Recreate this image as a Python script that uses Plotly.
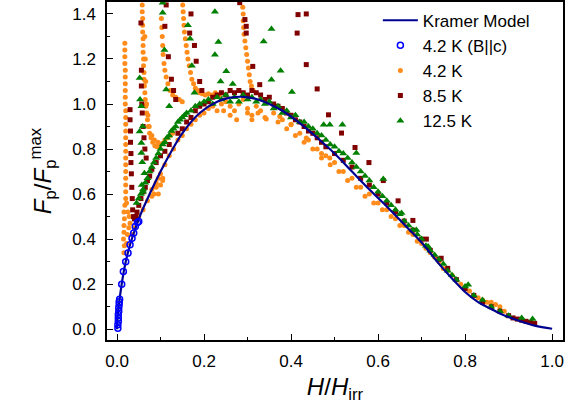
import plotly.graph_objects as go

# ---------------- data ----------------
kramer_h = [0, 0.002, 0.005, 0.01, 0.015, 0.02, 0.03, 0.04, 0.05, 0.075, 0.10, 0.125, 0.15,
            0.19, 0.23, 0.26, 0.29, 0.32, 0.35, 0.38, 0.42, 0.46, 0.50, 0.54, 0.58, 0.62,
            0.66, 0.70, 0.74, 0.77, 0.80, 0.83, 0.86, 0.88, 0.92, 0.96, 1.0]
kramer_f = [0, 0.07, 0.12, 0.19, 0.25, 0.30, 0.375, 0.435, 0.49, 0.60, 0.70, 0.79, 0.87,
            0.96, 1.01, 1.028, 1.032, 1.022, 1.0, 0.97, 0.915, 0.85, 0.78, 0.70, 0.62, 0.545,
            0.465, 0.385, 0.29, 0.225, 0.165, 0.12, 0.09, 0.07, 0.04, 0.016, 0.002]

bc_42K = [(0.002, 0.004), (0.002, 0.02), (0.003, 0.035), (0.003, 0.05), (0.003, 0.065),
          (0.004, 0.08), (0.004, 0.095), (0.005, 0.11), (0.005, 0.122), (0.006, 0.133),
          (0.0108, 0.2), (0.0146, 0.256), (0.02, 0.30), (0.0253, 0.338), (0.03, 0.375),
          (0.0345, 0.404), (0.0384, 0.427), (0.042, 0.456), (0.047, 0.474), (0.05, 0.478)]

orange_42K = [
    # low-field branch near h = 0.02
    (0.018, 1.27), (0.018, 1.24), (0.018, 1.21), (0.018, 1.18), (0.019, 1.15), (0.019, 1.12),
    (0.019, 1.09), (0.019, 1.06), (0.019, 1.03), (0.019, 1.00), (0.020, 0.97), (0.020, 0.94),
    (0.020, 0.91), (0.020, 0.88), (0.020, 0.85), (0.020, 0.82), (0.020, 0.79), (0.020, 0.76),
    (0.020, 0.73), (0.020, 0.70), (0.020, 0.67), (0.020, 0.64), (0.020, 0.61), (0.020, 0.58),
    (0.018, 0.55), (0.016, 0.52), (0.017, 0.49), (0.016, 0.46), (0.016, 0.43), (0.015, 0.40),
    (0.017, 0.37), (0.016, 0.34), (0.022, 0.56), (0.025, 0.52), (0.028, 0.50), (0.030, 0.47),
    (0.027, 0.45), (0.024, 0.42), (0.022, 0.38),
    # branch from the top near h = 0.06
    (0.058, 1.44), (0.058, 1.41), (0.059, 1.38), (0.059, 1.35), (0.059, 1.32), (0.060, 1.29),
    (0.060, 1.26), (0.060, 1.23), (0.061, 1.20), (0.061, 1.17), (0.062, 1.14), (0.062, 1.11),
    (0.063, 1.08), (0.064, 1.05), (0.065, 1.02), (0.066, 0.99), (0.068, 0.96), (0.070, 0.93),
    (0.072, 0.90), (0.075, 0.87), (0.078, 0.85), (0.082, 0.83), (0.087, 0.815), (0.092, 0.81),
    (0.098, 0.815), (0.104, 0.825), (0.110, 0.84), (0.116, 0.85), (0.064, 1.30), (0.065, 1.20),
    (0.066, 1.10), (0.068, 1.00), (0.071, 0.95), (0.074, 0.90), (0.080, 0.86), (0.086, 0.84),
    (0.094, 0.83), (0.122, 0.86), (0.128, 0.87),
    # branch near h = 0.10
    (0.102, 1.38), (0.103, 1.34), (0.104, 1.30), (0.105, 1.26), (0.106, 1.22), (0.108, 1.18),
    (0.110, 1.15), (0.113, 1.12), (0.117, 1.09), (0.122, 1.06), (0.128, 1.04), (0.135, 1.03),
    (0.143, 1.02), (0.150, 1.01),
    # branch from the top near h = 0.15
    (0.151, 1.44), (0.152, 1.41), (0.153, 1.38), (0.154, 1.35), (0.155, 1.32), (0.157, 1.29),
    (0.159, 1.26), (0.161, 1.23), (0.163, 1.20), (0.166, 1.17), (0.169, 1.14), (0.172, 1.11),
    (0.176, 1.09), (0.180, 1.07), (0.185, 1.06), (0.190, 1.05), (0.196, 1.045), (0.203, 1.04),
    (0.210, 1.045), (0.218, 1.04), (0.226, 1.05), (0.235, 1.04),
    # branch from the top near h = 0.29
    (0.289, 1.43), (0.290, 1.40), (0.290, 1.37), (0.291, 1.34), (0.292, 1.31), (0.294, 1.28),
    (0.296, 1.25), (0.298, 1.22), (0.300, 1.19), (0.302, 1.16), (0.304, 1.13), (0.306, 1.10),
    (0.309, 1.08), (0.313, 1.06),
    # main curve
    (0.035, 0.42), (0.040, 0.45), (0.045, 0.48), (0.050, 0.50), (0.060, 0.53), (0.070, 0.57),
    (0.080, 0.62), (0.085, 0.60), (0.090, 0.65), (0.095, 0.67), (0.100, 0.69), (0.105, 0.66),
    (0.080, 0.59), (0.090, 0.63), (0.095, 0.60), (0.100, 0.64), (0.105, 0.67),
    (0.110, 0.73), (0.120, 0.77), (0.130, 0.80), (0.140, 0.84), (0.150, 0.86), (0.160, 0.89),
    (0.170, 0.91), (0.180, 0.93), (0.190, 0.95), (0.200, 0.96), (0.210, 0.98), (0.220, 0.99),
    (0.230, 0.97), (0.240, 1.00), (0.250, 1.01), (0.260, 0.99), (0.270, 0.97), (0.280, 1.00),
    (0.290, 1.02), (0.300, 0.98), (0.310, 0.95), (0.320, 0.99), (0.330, 0.97), (0.340, 0.94),
    (0.245, 0.97), (0.260, 0.95), (0.275, 0.93), (0.300, 0.96), (0.310, 0.93), (0.324, 0.96),
    (0.343, 0.933), (0.374, 0.945), (0.400, 0.908), (0.435, 0.849), (0.470, 0.78), (0.489, 0.76),
    (0.360, 0.96), (0.370, 0.92), (0.380, 0.93), (0.390, 0.89), (0.400, 0.91), (0.410, 0.86),
    (0.420, 0.87), (0.430, 0.83), (0.440, 0.84), (0.450, 0.80), (0.460, 0.80), (0.470, 0.76),
    (0.480, 0.77), (0.490, 0.73), (0.500, 0.74), (0.510, 0.70), (0.520, 0.70), (0.530, 0.66),
    (0.540, 0.67), (0.550, 0.63), (0.560, 0.63), (0.570, 0.59), (0.580, 0.60), (0.590, 0.56),
    (0.600, 0.56), (0.610, 0.53), (0.620, 0.53), (0.630, 0.50), (0.640, 0.49), (0.650, 0.46),
    (0.660, 0.46), (0.670, 0.43), (0.680, 0.42), (0.690, 0.39), (0.700, 0.38), (0.710, 0.36),
    (0.720, 0.34), (0.730, 0.32), (0.740, 0.30), (0.750, 0.27), (0.760, 0.26), (0.770, 0.24),
    (0.780, 0.22), (0.790, 0.20), (0.800, 0.18), (0.810, 0.17), (0.820, 0.15), (0.830, 0.14),
    (0.840, 0.13), (0.850, 0.12), (0.860, 0.12), (0.870, 0.11), (0.880, 0.10), (0.890, 0.08),
]

red_85K = [
    # low-field branch near h = 0.03
    (0.030, 0.975), (0.030, 0.93), (0.031, 0.88), (0.031, 0.83), (0.032, 0.78), (0.032, 0.74),
    (0.033, 0.69), (0.034, 0.63), (0.035, 0.58), (0.036, 0.53), (0.038, 0.50), (0.040, 0.49),
    (0.043, 0.50), (0.046, 0.52), (0.050, 0.55), (0.055, 0.58), (0.060, 0.61), (0.065, 0.63),
    (0.070, 0.66), (0.075, 0.68), (0.080, 0.71), (0.090, 0.74), (0.100, 0.77), (0.110, 0.79),
    (0.120, 0.82),
    # scattered upturns
    (0.055, 1.36), (0.056, 1.15), (0.056, 1.08), (0.057, 1.00), (0.058, 0.96), (0.060, 0.90),
    (0.062, 0.85), (0.064, 0.80), (0.067, 0.76),
    (0.113, 1.44), (0.110, 1.345), (0.118, 1.21), (0.125, 1.11), (0.130, 1.06), (0.135, 1.02),
    (0.170, 1.40), (0.167, 1.315), (0.178, 1.26), (0.182, 1.19), (0.190, 1.10), (0.195, 1.06),
    (0.282, 1.45), (0.294, 1.375), (0.297, 1.345), (0.297, 1.315), (0.312, 1.167), (0.328, 1.086),
    (0.416, 1.397), (0.435, 1.40), (0.414, 1.315), (0.435, 1.175), (0.460, 1.067), (0.486, 0.952),
    (0.516, 0.871), (0.547, 0.807), (0.579, 0.74), (0.612, 0.66), (0.646, 0.57), (0.680, 0.483),
    (0.711, 0.40), (0.745, 0.315),
    # main curve
    (0.140, 0.87), (0.150, 0.89), (0.160, 0.92), (0.170, 0.94), (0.180, 0.97), (0.190, 0.99),
    (0.200, 1.00), (0.210, 1.01), (0.220, 1.03), (0.230, 1.04), (0.240, 1.05), (0.250, 1.04),
    (0.260, 1.06), (0.270, 1.05), (0.280, 1.06), (0.290, 1.05), (0.300, 1.04), (0.310, 1.06),
    (0.320, 1.05), (0.330, 1.04), (0.340, 1.02), (0.350, 1.03), (0.360, 1.00), (0.370, 0.99),
    (0.380, 0.98), (0.390, 0.96), (0.400, 0.95), (0.410, 0.93), (0.420, 0.92), (0.430, 0.90),
    (0.440, 0.88), (0.450, 0.87), (0.460, 0.85), (0.470, 0.83), (0.480, 0.81), (0.500, 0.78),
    (0.520, 0.75), (0.540, 0.72), (0.560, 0.67), (0.580, 0.64), (0.600, 0.60), (0.620, 0.56),
    (0.640, 0.52), (0.660, 0.48), (0.680, 0.44), (0.700, 0.40), (0.720, 0.35), (0.740, 0.31),
    (0.760, 0.27), (0.780, 0.22), (0.800, 0.18), (0.820, 0.15), (0.840, 0.12), (0.860, 0.10),
    (0.880, 0.08), (0.900, 0.06), (0.910, 0.05), (0.920, 0.045), (0.930, 0.04), (0.940, 0.035),
    (0.950, 0.03), (0.960, 0.025),
]

green_125K = [
    # scattered upturns
    (0.052, 1.115), (0.053, 1.02), (0.056, 0.99), (0.059, 0.90), (0.052, 0.878), (0.056, 0.827),
    (0.056, 0.782), (0.058, 0.741), (0.063, 0.693), (0.057, 0.64), (0.060, 0.61),
    (0.105, 1.45), (0.105, 1.405), (0.109, 1.24), (0.113, 1.064), (0.120, 0.99),
    (0.163, 1.35), (0.168, 1.29), (0.172, 1.17), (0.178, 1.05),
    (0.225, 1.41), (0.233, 1.275), (0.225, 1.219), (0.251, 1.145), (0.238, 1.10), (0.266, 1.089),
    (0.355, 1.333), (0.337, 1.278), (0.376, 1.148), (0.355, 1.108), (0.402, 1.053),
    (0.475, 0.908), (0.489, 0.908), (0.518, 0.908), (0.550, 0.782), (0.612, 0.667),
    (0.654, 0.516), (0.688, 0.441), (0.715, 0.367), (0.807, 0.197),
    # main curve
    (0.045, 0.56), (0.050, 0.58), (0.055, 0.60), (0.060, 0.62), (0.065, 0.65), (0.070, 0.67),
    (0.075, 0.70), (0.080, 0.72), (0.085, 0.74), (0.090, 0.76), (0.095, 0.78), (0.100, 0.80),
    (0.105, 0.82), (0.110, 0.83), (0.115, 0.85), (0.120, 0.86), (0.125, 0.88), (0.130, 0.89),
    (0.135, 0.90), (0.140, 0.92), (0.145, 0.93), (0.150, 0.94), (0.155, 0.95), (0.160, 0.96),
    (0.170, 0.97), (0.180, 0.99), (0.190, 1.00), (0.200, 1.01), (0.210, 1.02), (0.220, 1.00),
    (0.230, 1.03), (0.240, 1.02), (0.250, 1.04), (0.260, 1.01), (0.270, 1.03), (0.280, 1.01),
    (0.290, 1.04), (0.300, 1.02), (0.310, 1.03), (0.320, 1.01), (0.330, 1.02), (0.340, 1.00),
    (0.350, 1.01), (0.360, 0.98), (0.370, 0.99), (0.380, 0.96), (0.390, 0.97), (0.400, 0.94),
    (0.410, 0.95), (0.420, 0.92), (0.430, 0.92), (0.440, 0.90), (0.450, 0.89), (0.460, 0.87),
    (0.470, 0.86), (0.480, 0.84), (0.490, 0.82), (0.500, 0.81), (0.510, 0.79), (0.520, 0.78),
    (0.530, 0.76), (0.540, 0.74), (0.550, 0.72), (0.560, 0.70), (0.570, 0.68), (0.580, 0.66),
    (0.590, 0.63), (0.600, 0.61), (0.610, 0.59), (0.620, 0.57), (0.630, 0.55), (0.640, 0.53),
    (0.650, 0.51), (0.660, 0.48), (0.670, 0.46), (0.680, 0.44), (0.690, 0.42), (0.700, 0.40),
    (0.710, 0.37), (0.720, 0.35), (0.730, 0.33), (0.740, 0.31), (0.750, 0.29), (0.760, 0.26),
    (0.770, 0.24), (0.780, 0.22), (0.800, 0.19), (0.820, 0.15), (0.840, 0.13), (0.860, 0.10),
    (0.880, 0.08), (0.900, 0.06), (0.930, 0.05), (0.955, 0.045),
]

x_ticks = [0.0, 0.2, 0.4, 0.6, 0.8, 1.0]
y_ticks = [0.0, 0.2, 0.4, 0.6, 0.8, 1.0, 1.2, 1.4]

FONT = "Liberation Sans, Arial, sans-serif"


def split(pairs):
    return [p[0] for p in pairs], [p[1] for p in pairs]


fig = go.Figure()

ox, oy = split(orange_42K)
rx, ry = split(red_85K)
gx, gy = split(green_125K)
bx, by = split(bc_42K)

fig.add_trace(go.Scatter(x=ox, y=oy, mode="markers", name="4.2 K", legendrank=3,
                         marker=dict(symbol="circle", size=5, color="#FF8C1A", line=dict(width=0))))
fig.add_trace(go.Scatter(x=rx, y=ry, mode="markers", name="8.5 K", legendrank=4,
                         marker=dict(symbol="square", size=5, color="#800000", line=dict(width=0))))
fig.add_trace(go.Scatter(x=gx, y=gy, mode="markers", name="12.5 K", legendrank=5,
                         marker=dict(symbol="triangle-up", size=7, color="#008000", line=dict(width=0))))
fig.add_trace(go.Scatter(x=kramer_h, y=kramer_f, mode="lines", name="Kramer Model", legendrank=1,
                         line=dict(color="#000090", width=2.2, shape="spline")))
fig.add_trace(go.Scatter(x=bx, y=by, mode="markers", name="4.2 K (B||c)", legendrank=2,
                         marker=dict(symbol="circle-open", size=6, color="#0000FF",
                                     line=dict(width=1.5, color="#0000FF"))))

axis_common = dict(
    showline=True, linecolor="black", linewidth=1.5, mirror=True,
    ticks="inside", ticklen=6, tickwidth=1.2, tickcolor="black",
    showgrid=False, zeroline=False, automargin=False,
    tickfont=dict(family=FONT, size=17, color="black"),
)

fig.update_xaxes(
    range=[-0.023, 1.025], tickvals=x_ticks, ticktext=[f"{v:.1f}" for v in x_ticks],
    minor=dict(ticks="inside", ticklen=3, tickwidth=1, dtick=0.1, tick0=0, tickcolor="black", showgrid=False),
    title=dict(text="<i>H</i>/<i>H</i><sub>irr</sub>", font=dict(family=FONT, size=24, color="black"),
               standoff=8),
    ticklabelstandoff=5,
    **axis_common,
)
fig.update_yaxes(
    range=[-0.048, 1.453], tickvals=y_ticks, ticktext=[f"{v:.1f}" for v in y_ticks],
    minor=dict(ticks="inside", ticklen=3, tickwidth=1, dtick=0.1, tick0=0, tickcolor="black", showgrid=False),
    title=dict(text="<i>F</i><sub>p</sub>/<i>F</i><sub>p</sub><sup>max</sup>",
               font=dict(family=FONT, size=24, color="black"), standoff=14),
    ticklabelstandoff=6,
    **axis_common,
)

fig.update_layout(
    width=578, height=417,
    margin=dict(l=107, r=15, t=2, b=77, autoexpand=False),
    paper_bgcolor="white", plot_bgcolor="white",
    font=dict(family=FONT, color="black"),
    showlegend=True,
    legend=dict(x=0.594, y=0.998, xanchor="left", yanchor="top", bgcolor="rgba(0,0,0,0)",
                borderwidth=0, font=dict(family=FONT, size=17, color="black"),
                itemwidth=35, tracegroupgap=0),
)

fig.write_html("out.html", config={"displayModeBar": False},
               post_script="document.body.style.margin='0px';document.body.style.padding='0px';")
